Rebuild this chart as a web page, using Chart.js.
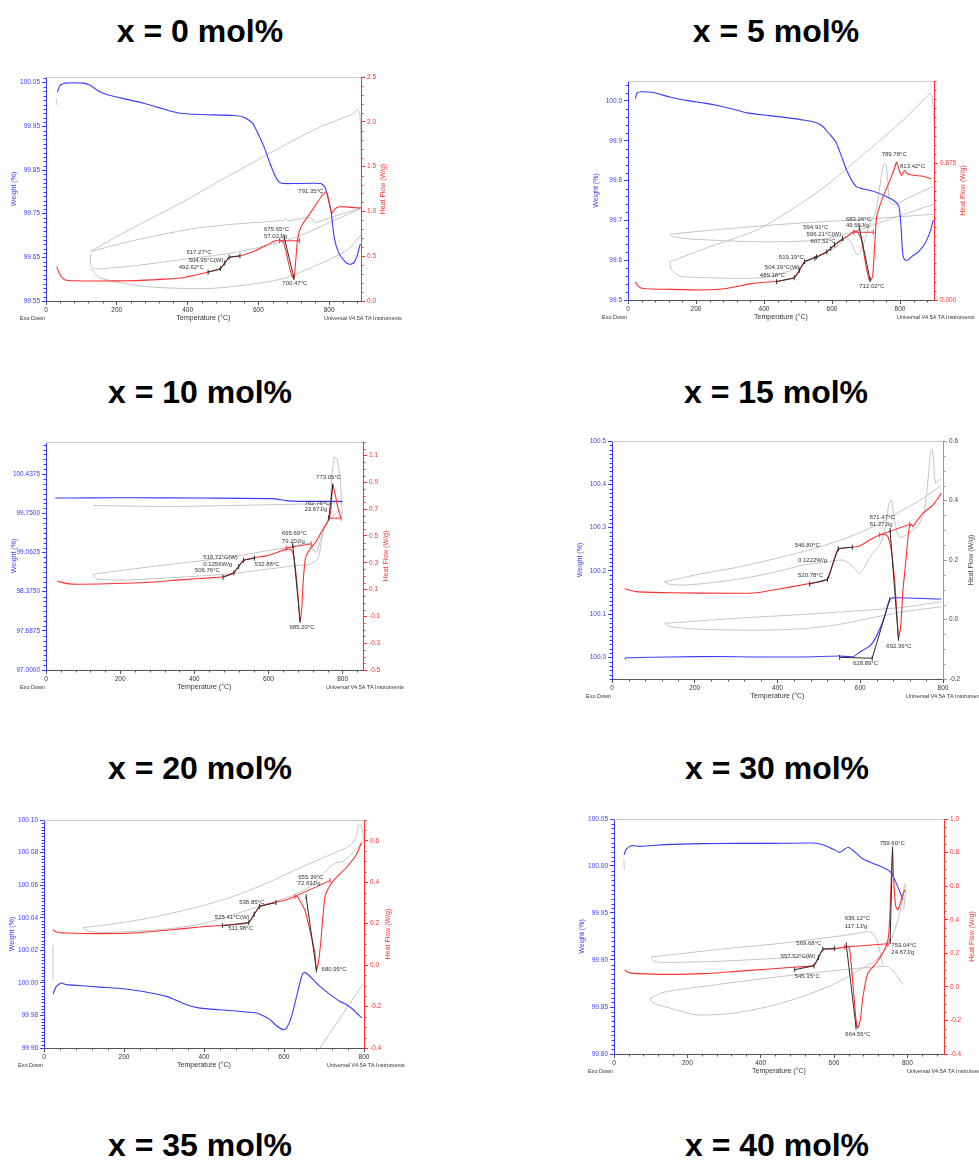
<!DOCTYPE html>
<html>
<head>
<meta charset="utf-8">
<script src="https://cdn.jsdelivr.net/npm/chart.js@4.4.1/dist/chart.umd.min.js"></script>
<style>
  html, body { margin: 0; padding: 0; background: #fff; overflow: hidden; }
  body { width: 979px; height: 1160px; position: relative; font-family: "Liberation Sans", Arial, sans-serif; }
  .ttl { position: absolute; font-weight: bold; font-size: 32px; line-height: 32px; color: #000; white-space: nowrap; transform: translateX(-50%); }
  canvas { position: absolute; }
</style>
</head>
<body>
<div class="ttl" style="left:200px;top:15px">x = 0 mol%</div>
<div class="ttl" style="left:776px;top:15px">x = 5 mol%</div>
<div class="ttl" style="left:200px;top:376px">x = 10 mol%</div>
<div class="ttl" style="left:776px;top:376px">x = 15 mol%</div>
<div class="ttl" style="left:200px;top:752px">x = 20 mol%</div>
<div class="ttl" style="left:777px;top:752px">x = 30 mol%</div>
<div class="ttl" style="left:200px;top:1129px">x = 35 mol%</div>
<div class="ttl" style="left:777px;top:1129px">x = 40 mol%</div>
<script>
// ---------- shared ----------
const tempTicks = ['0', '200', '400', '600', '800'];

// ---------- x = 0 mol% ----------
const p1WeightTicks = ['99.55', '99.65', '99.75', '99.85', '99.95', '100.05'];
const p1HeatTicks = ['0.0', '0.5', '1.0', '1.5', '2.0', '2.5'];
const p1Weight = [[32,100.029],[40,100.044],[54,100.049],[106,100.049],[125,100.044],[148,100.031],[172,100.023],[200,100.017],[238,100.010],[276,100.003],[314,99.994],[351,99.985],[380,99.980],[436,99.977],[531,99.975],[559,99.971],[583,99.958],[597,99.937],[616,99.903],[633,99.865],[649,99.834],[663,99.820],[701,99.819],[776,99.819],[788,99.811],[795,99.792],[805,99.758],[814,99.697],[826,99.662],[843,99.642],[857,99.634],[869,99.637],[878,99.651],[888,99.681]];
const p1Heat = [[30,0.384],[40,0.291],[54,0.235],[87,0.226],[153,0.224],[238,0.226],[300,0.236],[380,0.256],[460,0.325],[492.62,0.36],[504.95,0.424],[517.27,0.486],[548,0.503],[587,0.552],[625,0.627],[649,0.672],[663,0.679],[672,0.646],[682,0.48],[693,0.30],[700.47,0.25],[705,0.42],[710,0.66],[716,0.78],[725,0.86],[750,1.0],[775,1.15],[791.35,1.22],[797,1.16],[803,1.03],[808,0.98],[815,1.02],[825,1.05],[850,1.05],[875,1.04],[890,1.04]];
const p1GrayA = [[126.6,0.552],[200.2,0.720],[294.7,0.918],[398.6,1.131],[483.6,1.325],[578,1.530],[672.5,1.735],[767,1.929],[852,2.063],[872.7,2.101],[878.4,2.138],[886,2.108],[889.7,1.84],[891.6,1.056]];
const p1GrayB = [[126.6,0.552],[247.5,0.675],[408,0.802],[530.8,0.858],[670.6,0.899],[677.2,0.922],[683.8,0.896],[748,0.933],[757.5,0.877],[814,0.944],[887.8,1.034]];
const p1GrayC = [[126.6,0.534],[126.6,0.392],[138.8,0.358],[247.5,0.392],[389,0.466],[521.4,0.534],[653.6,0.646],[719.7,0.731],[814,0.899],[887.8,1.026]];
const p1GrayD = [[126.6,0.362],[153,0.257],[285.2,0.160],[474.1,0.142],[663,0.243],[767,0.403],[852,0.571],[889.7,0.739]];
const p1GrayE = [[30,2.26],[30.5,2.2],[35,2.19]];
const p1Glass = [[458,0.322],[492.62,0.36],[504.95,0.424],[517.27,0.488],[548,0.505]];
const p1Endo = [[673,0.71],[700.47,0.26]];
const p1Base = [[660,0.672],[716,0.672]];
const p1Labels = [[713,1.224,'791.35°C'],[615.8,0.80,'675.65°C'],[615.8,0.727,'57.02J/g'],[396.7,0.545,'517.27°C'],[403,0.459,'504.95°C(W)'],[375,0.373,'492.62°C'],[667.7,0.198,'700.47°C']];

// ---------- x = 5 mol% ----------
const p2WeightTicks = ['99.5', '99.6', '99.7', '99.8', '99.9', '100.0'];
const p2HeatTicks = ['0.000', '0.875'];
const p2Weight = [[21.6,100.006],[26.5,100.020],[39.3,100.023],[73.6,100.021],[122.7,100.010],[181.6,100.000],[220.9,99.995],[269.9,99.987],[319,99.977],[348.5,99.970],[417.2,99.963],[466.3,99.958],[515.3,99.952],[554.6,99.945],[574.2,99.935],[589,99.920],[603.7,99.906],[613.5,99.893],[628.2,99.860],[643,99.826],[657.7,99.801],[672.4,99.784],[692,99.779],[721.5,99.773],[751,99.763],[775.5,99.753],[790.2,99.744],[798,99.730],[803,99.684],[808,99.617],[812.8,99.602],[821.6,99.600],[834.4,99.609],[854,99.621],[873.6,99.642],[888.4,99.671],[898.2,99.701]];
const p2Heat = [[21.6,0.117],[29.4,0.089],[44.2,0.074],[122.7,0.068],[220.9,0.064],[289.6,0.074],[368,0.106],[437,0.12],[489.18,0.142],[504.19,0.19],[519.19,0.245],[554.6,0.276],[584.91,0.308],[596.21,0.33],[607.52,0.352],[643,0.404],[662.6,0.435],[674,0.44],[687,0.382],[697,0.255],[706.7,0.149],[712.02,0.125],[719.5,0.15],[726.4,0.382],[731.3,0.531],[746,0.637],[770.5,0.765],[785.3,0.85],[789.78,0.881],[798,0.828],[805,0.797],[813.42,0.828],[821.6,0.807],[839.3,0.797],[868.7,0.790],[893,0.775]];
const p2GrayA = [[122.7,0.244],[240.5,0.340],[387.7,0.457],[564.4,0.701],[711.7,0.966],[809.8,1.151],[878.5,1.300],[888.3,1.321],[895.2,1.296],[900,1.104]];
const p2GrayB = [[122.7,0.421],[289.6,0.455],[485.9,0.489],[682.2,0.514],[898.2,0.548]];
const p2GrayC = [[122.7,0.421],[132.5,0.404],[191.4,0.389],[387.7,0.372],[554.6,0.382],[662.6,0.435],[760.7,0.510],[898.2,0.612]];
const p2GrayD = [[643,0.404],[657.7,0.361],[672.4,0.293],[684.2,0.308],[697,0.387],[711.7,0.489],[726.4,0.552],[736.2,0.658],[746,0.807],[752.9,0.871],[758.8,0.867],[763.7,0.765],[768.6,0.637],[775.5,0.612],[795.1,0.620],[829.4,0.658],[898.2,0.726]];
const p2GrayE = [[122.7,0.244],[127.6,0.195],[152.1,0.153],[211,0.144],[338.7,0.138],[417.2,0.149],[495.7,0.202],[535,0.255],[613.5,0.340],[643,0.404]];
const p2Glass1 = [[437,0.117],[489.18,0.142],[504.19,0.19],[519.19,0.245],[554.6,0.276]];
const p2Glass2 = [[549.7,0.266],[584.91,0.308],[596.21,0.33],[607.52,0.352],[631.2,0.393]];
const p2Endo = [[680.5,0.46],[712.02,0.13]];
const p2Base = [[662.6,0.433],[721.5,0.433]];
const p2Labels = [[746,0.930,'789.78°C'],[800,0.854,'813.42°C'],[641,0.514,'683.26°C'],[641,0.480,'49.56J/g'],[515.3,0.464,'594.91°C'],[525,0.421,'596.21°C(W)'],[537,0.372,'607.52°C'],[443.7,0.272,'519.19°C'],[402.5,0.208,'504.19°C(W)'],[387.7,0.155,'489.18°C'],[680.2,0.085,'712.02°C']];

// ---------- x = 10 mol% ----------
const p3WeightTicks = ['97.0000', '97.6875', '98.3750', '99.0625', '99.7500', '100.4375'];
const p3HeatTicks = ['-0.5', '-0.3', '-0.1', '0.1', '0.3', '0.5', '0.7', '0.9', '1.1'];
const p3Weight = [[25,100.017],[120,100.02],[235.6,100.023],[414.8,100.017],[612,100.006],[648,99.971],[683.6,99.959],[800,99.959]];
const p3Heat = [[29.6,0.164],[56.4,0.144],[92.3,0.139],[271.5,0.152],[361,0.172],[450.6,0.189],[477.5,0.195],[506.76,0.225],[519.72,0.272],[532.88,0.318],[558.2,0.336],[594,0.351],[629.8,0.383],[647.7,0.401],[661.2,0.396],[667.4,0.358],[674.6,0.209],[681,0.010],[685.2,-0.139],[689.8,-0.040],[694.3,0.184],[699.7,0.333],[710.4,0.396],[728.4,0.458],[746.3,0.545],[762.4,0.620],[768.7,0.707],[773.05,0.886],[779.4,0.819],[786.6,0.719],[795.5,0.632]];
const p3GrayA = [[128,0.727],[325,0.719],[504.4,0.727],[683.6,0.737],[800,0.747]];
const p3GrayB = [[128.1,0.214],[226.7,0.251],[361,0.296],[495.4,0.341],[594,0.388],[638.8,0.408],[701.5,0.443],[715,0.433],[723.9,0.383],[730.2,0.378],[739.1,0.458],[750.8,0.562],[764.2,0.657],[771.4,0.955],[777.6,1.085],[784.8,1.075],[792.9,0.931],[798.2,0.707],[800,0.657]];
const p3GrayC = [[128.1,0.214],[128.1,0.197],[141.5,0.177],[226.7,0.172],[361,0.192],[495.4,0.217],[594,0.251],[665.7,0.276],[710.4,0.289],[732.8,0.328],[744.5,0.483],[755.2,0.595],[773,0.645],[790.9,0.687],[800,0.662]];
const p3Glass = [[477.5,0.192],[506.76,0.225],[519.72,0.272],[532.88,0.318],[562.6,0.334]];
const p3Endo = [[665.69,0.43],[685.2,-0.13]];
const p3Exo = [[762.76,0.632],[773.05,0.87]];
const p3Base1 = [[647.7,0.408],[714.9,0.441]];
const p3Base2 = [[762.4,0.632],[795.5,0.632]];
const p3Labels = [[728.5,0.936,'773.05°C'],[697,0.744,'762.76°C'],[697,0.699,'23.67J/g'],[636,0.520,'665.69°C'],[636,0.463,'79.20J/g'],[423.8,0.338,'519.72°C(W)'],[423.8,0.291,'0.1356W/g'],[562.6,0.291,'532.88°C'],[401.4,0.241,'506.76°C'],[656.7,-0.184,'685.20°C']];

// ---------- x = 15 mol% ----------
const p4WeightTicks = ['100.0', '100.1', '100.2', '100.3', '100.4', '100.5'];
const p4HeatTicks = ['-0.2', '0.0', '0.2', '0.4', '0.6'];
const p4Weight = [[30.6,99.996],[34.6,99.999],[139.4,100.001],[260.2,100.002],[341,100.001],[461.6,100.001],[550,100.003],[582.5,100.0015],[598.6,100.012],[622.7,100.026],[634.8,100.041],[646.9,100.065],[659,100.095],[669.5,100.130],[677.5,100.1375],[783.8,100.135],[796,100.135]];
const p4Heat = [[30.6,0.1036],[58.8,0.0936],[139.4,0.090],[300.5,0.088],[348.8,0.090],[397.2,0.101],[461.6,0.117],[477.7,0.121],[520.78,0.135],[534.1,0.19],[546.8,0.236],[582.3,0.243],[598.6,0.247],[622.7,0.267],[646.9,0.284],[659,0.287],[667,0.278],[675,0.234],[683,0.133],[688.8,0.010],[692.36,-0.063],[697.7,-0.024],[703.3,0.099],[711.3,0.211],[717.8,0.306],[723.4,0.321],[727.5,0.312],[735.5,0.329],[751.6,0.357],[775.8,0.385],[796,0.424]];
const p4GrayA = [[127.3,0.127],[219.9,0.155],[300.5,0.175],[381,0.200],[461.6,0.228],[542.2,0.262],[622.7,0.306],[703.3,0.368],[751.6,0.407],[796,0.450]];
const p4GrayB = [[127.3,0.127],[139.4,0.118],[179.6,0.116],[260.2,0.127],[340.8,0.144],[413.3,0.166],[461.6,0.183],[510,0.191],[558.3,0.200],[582.5,0.178],[597,0.155],[610.6,0.178],[626.8,0.217],[646.9,0.250],[659,0.301],[669.5,0.390],[675.1,0.402],[680.7,0.357],[687.2,0.301],[695.2,0.276],[707.3,0.281],[727.5,0.301],[743.6,0.323],[755.6,0.368],[763.7,0.469],[770.2,0.564],[774.2,0.572],[778.2,0.514],[782.2,0.458],[790.3,0.471],[796,0.467]];
const p4GrayC = [[127.3,-0.013],[300.5,0.004],[461.6,0.017],[622.7,0.032],[703.3,0.041],[796,0.060]];
const p4GrayD = [[127.3,-0.013],[139.4,-0.024],[219.9,-0.033],[356.9,-0.036],[461.6,-0.031],[542.2,-0.018],[622.7,0.004],[703.3,0.026],[796,0.043]];
const p4Glass = [[477.7,0.119],[520.78,0.135],[546.8,0.238],[580.8,0.243]];
const p4Endo = [[672,0.30],[692.36,-0.063]];
const p4Base = [[646.9,0.284],[719.4,0.320]];
const p4Onset = [[550.2,100.0],[628.89,99.998],[671,100.133]];
const p4Labels = [[441.5,0.250,'546.80°C'],[449.5,0.200,'0.1222W/g'],[449.5,0.150,'520.78°C'],[622.7,0.343,'671.47°C'],[622.7,0.321,'61.27J/g'],[663,-0.089,'692.36°C'],[582.5,-0.147,'628.89°C']];

// ---------- x = 20 mol% ----------
const p5WeightTicks = ['99.96', '99.98', '100.00', '100.02', '100.04', '100.06', '100.08', '100.10'];
const p5HeatTicks = ['-0.4', '-0.2', '0.0', '0.2', '0.4', '0.6'];
const p5Weight = [[22.5,99.9931],[30.9,99.9978],[43.4,99.9999],[55.9,99.9989],[97.6,99.9982],[139.3,99.9974],[197.7,99.9964],[247.8,99.9947],[306.2,99.9917],[356.2,99.9866],[389.6,99.9845],[473,99.9829],[531.4,99.9815],[548.1,99.9798],[564.8,99.9774],[581.4,99.9737],[598.1,99.9712],[606.5,99.9723],[619,99.9794],[631.5,99.9917],[644,100.0039],[649.8,100.0064],[660.7,100.005],[677.4,100.0009],[689.9,99.9978],[710.7,99.9937],[739.9,99.9886],[756.6,99.9866],[773.3,99.9835],[794.2,99.9784]];
const p5Heat = [[22.5,0.171],[30.9,0.160],[55.9,0.155],[139.3,0.152],[222.7,0.155],[306.2,0.168],[389.6,0.184],[448,0.192],[489.7,0.198],[511.98,0.205],[525.41,0.245],[538.85,0.283],[556.4,0.293],[581.4,0.304],[606.5,0.315],[627.3,0.331],[633.2,0.331],[639.8,0.312],[652.3,0.264],[664.9,0.168],[677.4,0.056],[680.95,-0.024],[685.7,0.008],[691.6,0.104],[702.4,0.328],[714.9,0.384],[731.6,0.424],[756.6,0.472],[781.6,0.536],[794.2,0.592]];
const p5GrayA = [[97.6,0.181],[139.3,0.190],[222.7,0.213],[306.2,0.245],[389.6,0.283],[473,0.331],[556.4,0.395],[639.8,0.469],[723.3,0.539],[765,0.576],[780,0.616],[785.8,0.667],[790,0.683],[795.8,0.656],[800,0.592]];
const p5GrayB = [[97.6,0.181],[107.6,0.165],[139.3,0.158],[222.7,0.162],[306.2,0.174],[389.6,0.197],[456.3,0.232],[506.4,0.264],[556.4,0.293],[606.5,0.325],[656.5,0.368],[689.9,0.424],[723.3,0.488],[748.3,0.501],[773.3,0.544],[796.7,0.597]];
const p5GrayC = [[22.5,0.096],[22.5,-0.072]];
const p5GrayD = [[689.9,-0.4],[798.3,-0.088]];
const p5Glass = [[446,0.19],[511.98,0.205],[525.41,0.245],[538.85,0.283],[580,0.302]];
const p5Endo = [[655.39,0.33],[680.95,-0.024]];
const p5Base = [[627.3,0.331],[714.9,0.408]];
const p5Labels = [[488,0.301,'538.85°C'],[427,0.232,'525.41°C(W)'],[460.5,0.175,'511.98°C'],[635.6,0.424,'655.39°C'],[634,0.395,'72.63J/g'],[694,-0.019,'680.95°C']];

// ---------- x = 30 mol% ----------
const p6WeightTicks = ['99.80', '99.85', '99.90', '99.95', '100.00', '100.05'];
const p6HeatTicks = ['-0.4', '-0.2', '0.0', '0.2', '0.4', '0.6', '0.8', '1.0'];
const p6Weight = [[27.3,100.012],[33.6,100.018],[47.3,100.0216],[70,100.0209],[151.8,100.023],[242.7,100.0238],[333.6,100.0241],[424.5,100.0241],[542.7,100.0245],[570,100.0227],[597.3,100.018],[615.5,100.0145],[629.1,100.018],[638.2,100.020],[651.8,100.0167],[679.1,100.0074],[715.5,100.0014],[742.7,99.9968],[756.4,99.9926],[765.5,99.9855],[779.1,99.973],[788.2,99.9642]];
const p6Heat = [[29.1,0.102],[38.2,0.0865],[60.9,0.0786],[151.8,0.0746],[242.7,0.0786],[333.6,0.0925],[424.5,0.1064],[497.3,0.118],[545.35,0.128],[557.52,0.175],[569.68,0.222],[597.3,0.226],[629.1,0.237],[638.2,0.24],[642.7,0.222],[650,0.0627],[659.1,-0.176],[664.56,-0.245],[671.8,-0.195],[679.1,-0.056],[692.7,0.0825],[715.5,0.142],[738.2,0.222],[747.3,0.281],[751.8,0.40],[759.6,0.817],[762.7,0.639],[768.2,0.48],[774.5,0.46],[783.6,0.519],[792.7,0.579]];
const p6GrayA = [[101.8,0.178],[279.1,0.2215],[460.9,0.261],[642.7,0.311],[692.7,0.329],[706.4,0.317],[720,0.261],[729.1,0.172],[733.6,0.132]];
const p6GrayB = [[101.8,0.178],[106.4,0.158],[124.5,0.146],[279.1,0.152],[460.9,0.172],[533.6,0.182]];
const p6GrayC = [[97.3,-0.072],[133.6,-0.033],[279.1,0.013],[460.9,0.063],[642.7,0.106],[733.6,0.122],[751.8,0.118],[788.2,0.013]];
const p6GrayD = [[97.3,-0.072],[106.4,-0.096],[151.8,-0.126],[224.5,-0.166],[315.5,-0.160],[424.5,-0.116],[515.5,-0.056],[606.4,0.023],[670,0.102],[715.5,0.162],[751.8,0.261],[774.5,0.400],[788.2,0.539],[792.7,0.615],[795.5,0.579],[790,0.460]];
const p6GrayE = [[27,0.76],[28,0.70]];
const p6Glass = [[492.7,0.1024],[545.35,0.125],[557.52,0.175],[569.68,0.2255],[601.8,0.229]];
const p6Endo = [[633.6,0.25],[660,-0.24]];
const p6Exo = [[753.04,0.27],[759.6,0.82]];
const p6Base = [[629.1,0.237],[747.3,0.257]];
const p6Labels = [[724.5,0.857,'759.60°C'],[629.1,0.410,'636.12°C'],[629.1,0.361,'117.1J/g'],[497.3,0.257,'569.68°C'],[454.5,0.182,'557.52°C(W)'],[492.7,0.063,'545.35°C'],[756.4,0.247,'753.04°C'],[756.4,0.206,'24.67J/g'],[630.9,-0.285,'664.56°C']];

// ---------- drawing ----------
const FONT = '"Liberation Sans", Arial, sans-serif';
const BLUE = '#3a3aff', RED = '#ff3030', GRAY = '#c4c4c4', INK = '#2e2e2e', DARK = '#444';

const panels = [
  { plot: [46, 77, 361, 301], xMax: 890, w: [99.55, 100.063], h: [0, 2.5], wTicks: p1WeightTicks, hTicks: p1HeatTicks, wMinor: 10, hMinor: 5,
    hColor: RED, hTitle: 22, weight: p1Weight, heat: p1Heat, grays: [p1GrayA, p1GrayB, p1GrayC, p1GrayD, p1GrayE],
    black: [p1Glass, p1Endo], redBase: [p1Base], blackW: [], labels: p1Labels },
  { plot: [628, 81, 934, 300], xMax: 900, w: [99.5, 100.05], h: [0, 1.4], wTicks: p2WeightTicks, hTicks: p2HeatTicks, wMinor: 5, hMinor: 15,
    hColor: RED, hTitle: 29, weight: p2Weight, heat: p2Heat, grays: [p2GrayA, p2GrayB, p2GrayC, p2GrayD, p2GrayE],
    black: [p2Glass1, p2Glass2, p2Endo], redBase: [p2Base], blackW: [], labels: p2Labels },
  { plot: [46, 442, 363, 670], xMax: 855, w: [97, 101], h: [-0.5, 1.2], wTicks: p3WeightTicks, hTicks: p3HeatTicks, wMinor: 8, hMinor: 4,
    hColor: RED, hTitle: 23, weight: p3Weight, heat: p3Heat, grays: [p3GrayA, p3GrayB, p3GrayC],
    black: [p3Glass, p3Endo, p3Exo], redBase: [p3Base1, p3Base2], blackW: [], labels: p3Labels },
  { plot: [612, 441, 943, 679], xMax: 800, w: [99.95, 100.5], h: [-0.2, 0.6], wTicks: p4WeightTicks, hTicks: p4HeatTicks, wMinor: 10, hMinor: 4,
    hColor: DARK, hTitle: 28, weight: p4Weight, heat: p4Heat, grays: [p4GrayA, p4GrayB, p4GrayC, p4GrayD],
    black: [p4Glass, p4Endo], redBase: [p4Base], blackW: [p4Onset], labels: p4Labels },
  { plot: [44, 820, 364, 1048], xMax: 800, w: [99.96, 100.10], h: [-0.4, 0.7], wTicks: p5WeightTicks, hTicks: p5HeatTicks, wMinor: 10, hMinor: 4,
    hColor: RED, hTitle: 24, weight: p5Weight, heat: p5Heat, grays: [p5GrayA, p5GrayB, p5GrayC, p5GrayD],
    black: [p5Glass, p5Endo], redBase: [p5Base], blackW: [], labels: p5Labels },
  { plot: [614, 819, 944, 1054], xMax: 900, w: [99.80, 100.05], h: [-0.4, 1.0], wTicks: p6WeightTicks, hTicks: p6HeatTicks, wMinor: 10, hMinor: 4,
    hColor: RED, hTitle: 28, weight: p6Weight, heat: p6Heat, grays: [p6GrayA, p6GrayB, p6GrayC, p6GrayD, p6GrayE],
    black: [p6Glass, p6Endo, p6Exo], redBase: [p6Base], blackW: [], labels: p6Labels }
];

const pts = arr => arr.map(p => ({ x: p[0], y: p[1] }));

function curve(arr, axis, color, width, order, tension) {
  return { data: pts(arr), yAxisID: axis, borderColor: color, backgroundColor: color, borderWidth: width,
           pointRadius: 0, tension: tension, fill: false, order: order };
}
function marked(arr, axis, color, order) {
  return { data: pts(arr), yAxisID: axis, borderColor: color, backgroundColor: color, borderWidth: 1,
           pointRadius: 2.5, pointStyle: 'line', rotation: 90, pointBorderColor: color, pointBorderWidth: 1,
           pointHoverRadius: 0, tension: 0, fill: false, order: order };
}

function minorTicks(ctx, scale, major, n, side, a) {
  if (!n || major.length < 1) return;
  const stepMajor = major.length > 1 ? major[1] - major[0] : major[0];
  const step = stepMajor / n;
  let k0 = Math.ceil((scale.min - major[0]) / step - 1e-6);
  ctx.beginPath();
  for (let k = k0; ; k++) {
    const v = major[0] + k * step;
    if (v > scale.max + 1e-9) break;
    if (Math.abs(k % n) === 0) continue;
    if (side === 'bottom') {
      const px = Math.round(scale.getPixelForValue(v)) + 0.5;
      ctx.moveTo(px, a.bottom); ctx.lineTo(px, a.bottom + 2.5);
    } else {
      const py = Math.round(scale.getPixelForValue(v)) + 0.5;
      const x = side === 'left' ? a.left : a.right;
      const d = side === 'left' ? -2.5 : 2.5;
      ctx.moveTo(x, py); ctx.lineTo(x + d, py);
    }
  }
  ctx.stroke();
}

function makePanel(cfg) {
  const L = 50, R = 50, T = 10, B = 28;
  const [x0, y0, x1, y1] = cfg.plot;
  const cw = x1 - x0 + L + R, ch = y1 - y0 + T + B;
  const cv = document.createElement('canvas');
  cv.width = cw; cv.height = ch;
  cv.style.left = (x0 - L) + 'px'; cv.style.top = (y0 - T) + 'px';
  cv.style.width = cw + 'px'; cv.style.height = ch + 'px';
  document.body.appendChild(cv);

  const wVals = cfg.wTicks.map(Number), hVals = cfg.hTicks.map(Number), xVals = tempTicks.map(Number);
  const hAxisLine = cfg.hColor === RED ? RED : '#9a9a9a';

  const datasets = [];
  cfg.grays.forEach(g => datasets.push(curve(g, 'yh', GRAY, 1, 5, 0.25)));
  datasets.push(curve(cfg.heat, 'yh', RED, 1.1, 3, 0.2));
  cfg.redBase.forEach(b => datasets.push(marked(b, 'yh', RED, 2)));
  datasets.push(curve(cfg.weight, 'yw', BLUE, 1.1, 4, 0.2));
  cfg.black.forEach(b => datasets.push(marked(b, 'yh', INK, 1)));
  cfg.blackW.forEach(b => datasets.push(marked(b, 'yw', INK, 1)));

  const tickFont = { family: FONT, size: 6.5 };

  const decor = {
    id: 'decor',
    afterDraw(chart) {
      const { ctx, chartArea: a, scales } = chart;
      ctx.save();
      // top frame
      ctx.strokeStyle = '#c8c8c8'; ctx.lineWidth = 1;
      ctx.beginPath(); ctx.moveTo(a.left, a.top + 0.5); ctx.lineTo(a.right, a.top + 0.5); ctx.stroke();
      // minor ticks
      ctx.lineWidth = 1;
      ctx.strokeStyle = '#555'; minorTicks(ctx, scales.x, xVals, 5, 'bottom', a);
      ctx.strokeStyle = BLUE; minorTicks(ctx, scales.yw, wVals, cfg.wMinor, 'left', a);
      ctx.strokeStyle = hAxisLine; minorTicks(ctx, scales.yh, hVals, cfg.hMinor, 'right', a);
      // annotations
      ctx.font = '6px ' + FONT; ctx.fillStyle = '#333';
      ctx.textAlign = 'left'; ctx.textBaseline = 'middle';
      cfg.labels.forEach(([t, h, s]) => ctx.fillText(s, scales.x.getPixelForValue(t), scales.yh.getPixelForValue(h)));
      // axis titles
      const cy = (a.top + a.bottom) / 2;
      ctx.font = '7px ' + FONT; ctx.textAlign = 'center';
      ctx.save(); ctx.translate(a.left - 32, cy); ctx.rotate(-Math.PI / 2);
      ctx.fillStyle = BLUE; ctx.fillText('Weight (%)', 0, 0); ctx.restore();
      ctx.save(); ctx.translate(a.right + cfg.hTitle, cy); ctx.rotate(-Math.PI / 2);
      ctx.fillStyle = cfg.hColor; ctx.fillText('Heat Flow (W/g)', 0, 0); ctx.restore();
      ctx.fillStyle = '#333';
      ctx.fillText('Temperature (°C)', (a.left + a.right) / 2, a.bottom + 17);
      // footer
      ctx.font = '5.5px ' + FONT; ctx.textAlign = 'left';
      ctx.fillText('Exo Down', a.left - 26, a.bottom + 17);
      ctx.fillText('Universal V4.5A TA Instruments', a.right - 37, a.bottom + 17);
      ctx.restore();
    }
  };

  new Chart(cv, {
    type: 'line',
    data: { datasets },
    options: {
      responsive: false, animation: false, devicePixelRatio: 1, events: [],
      layout: { padding: { top: T, left: 0, right: 0, bottom: 0 } },
      plugins: { legend: { display: false }, tooltip: { enabled: false } },
      scales: {
        x: {
          type: 'linear', min: 0, max: cfg.xMax,
          afterBuildTicks: s => { s.ticks = xVals.map(v => ({ value: v })); },
          afterFit: s => { s.height = B; },
          grid: { display: true, drawOnChartArea: false, drawTicks: true, tickLength: 4, color: '#555' },
          border: { display: true, color: '#555', width: 1 },
          ticks: { color: '#333', font: tickFont, padding: 1, autoSkip: false, maxRotation: 0, minRotation: 0,
                   callback: (v, i) => tempTicks[i] }
        },
        yw: {
          type: 'linear', position: 'left', min: cfg.w[0], max: cfg.w[1],
          afterBuildTicks: s => { s.ticks = wVals.map(v => ({ value: v })); },
          afterFit: s => { s.width = L; },
          grid: { display: true, drawOnChartArea: false, drawTicks: true, tickLength: 4, color: BLUE },
          border: { display: true, color: BLUE, width: 1 },
          ticks: { color: BLUE, font: tickFont, padding: 2, autoSkip: false, callback: (v, i) => cfg.wTicks[i] }
        },
        yh: {
          type: 'linear', position: 'right', min: cfg.h[0], max: cfg.h[1],
          afterBuildTicks: s => { s.ticks = hVals.map(v => ({ value: v })); },
          afterFit: s => { s.width = R; },
          grid: { display: true, drawOnChartArea: false, drawTicks: true, tickLength: 4, color: hAxisLine },
          border: { display: true, color: hAxisLine, width: 1 },
          ticks: { color: cfg.hColor, font: tickFont, padding: 2, autoSkip: false, callback: (v, i) => cfg.hTicks[i] }
        }
      }
    },
    plugins: [decor]
  });
}

panels.forEach(makePanel);
</script>
</body>
</html>
